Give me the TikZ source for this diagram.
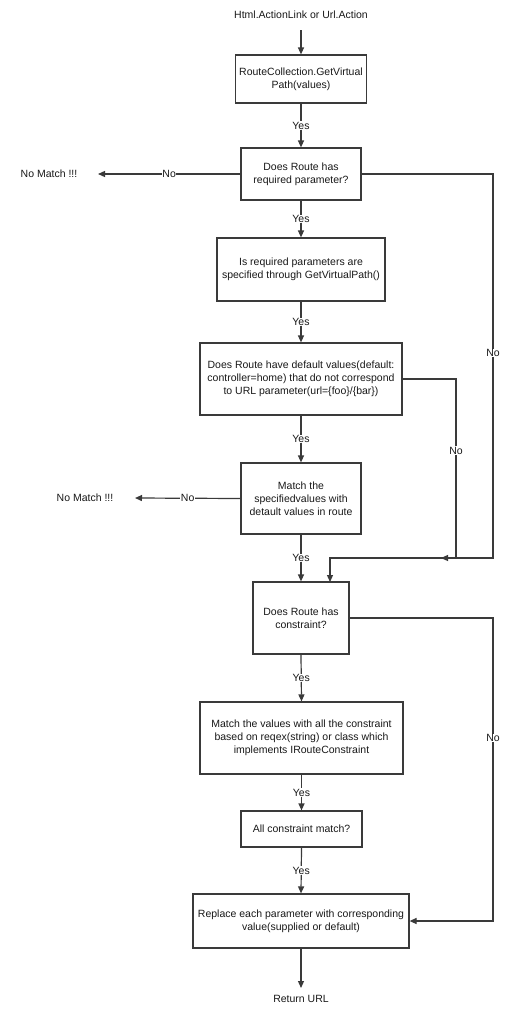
\documentclass[tikz,border=0pt]{standalone}
\usepackage{fontspec}
\setmainfont{Liberation Sans}
\usetikzlibrary{arrows.meta}
\definecolor{ln}{HTML}{3A3A3A}
\begin{document}
\begin{tikzpicture}[x=1pt,y=-1pt,
  every node/.style={font=\fontsize{10.5}{13}\selectfont, text=black!90},
  box/.style={draw=ln, line width=1.2pt, fill=white, align=center, inner sep=0pt},
  txt/.style={align=center, inner sep=1pt},
  lbl/.style={fill=white, inner sep=0.5pt},
  conn/.style={draw=ln, line width=1.2pt, -{Triangle[length=7pt,width=6pt]}},
  wire/.style={draw=ln, line width=1.2pt}]
\useasboundingbox (0,0) rectangle (519,1015);
\fill[white] (0,0) rectangle (519,1015);

\node[txt] (start) at (301,15) {Html.ActionLink or Url.Action};
\node[box, minimum width=131pt, minimum height=48pt] (b1) at (301,79) {RouteCollection.GetVirtual\\Path(values)};
\node[box, minimum width=120pt, minimum height=52pt] (b2) at (301,174) {Does Route has\\required parameter?};
\node[box, minimum width=168pt, minimum height=63pt] (b3) at (301,269.5) {Is required parameters are\\specified through GetVirtualPath()};
\node[box, minimum width=202pt, minimum height=72pt] (b4) at (301,379) {Does Route have default values(default:\\controller=home) that do not correspond\\to URL parameter(url=\{foo\}/\{bar\})};
\node[box, minimum width=120pt, minimum height=71pt] (b5) at (301,498.5) {Match the\\specifiedvalues with\\detault values in route};
\node[box, minimum width=96pt, minimum height=72pt] (b6) at (301,618) {Does Route has\\constraint?};
\node[box, minimum width=203pt, minimum height=72pt] (b7) at (301.5,738) {Match the values with all the constraint\\based on reqex(string) or class which\\implements IRouteConstraint};
\node[box, minimum width=121pt, minimum height=36pt] (b8) at (301.5,829) {All constraint match?};
\node[box, minimum width=216pt, minimum height=54pt] (b9) at (301,921) {Replace each parameter with corresponding\\value(supplied or default)};
\node[txt] (nm1) at (49,174) {No Match !!!};
\node[txt] (nm2) at (85,498) {No Match !!!};
\node[txt] (ret) at (301,999) {Return URL};

\coordinate (s0) at (301,30);
\coordinate (nm1e) at (98,174);
\coordinate (nm2e) at (135,498);
\coordinate (rete) at (301,988);
\coordinate (a1) at (493,174);
\coordinate (a2) at (493,558);
\coordinate (a3) at (330,558);
\coordinate (a4) at (330,582);
\coordinate (c1) at (456,379);
\coordinate (c2) at (456,558);
\coordinate (c3) at (441,558);
\coordinate (d1) at (493,618);
\coordinate (d2) at (493,921);

\draw[conn] (s0) -- (b1.north);
\draw[conn] (b1.south) -- node[lbl] {Yes} (b2.north);
\draw[conn] (b2.south) -- node[lbl] {Yes} (b3.north);
\draw[conn] (b3.south) -- node[lbl] {Yes} (b4.north);
\draw[conn] (b4.south) -- node[lbl] {Yes} (b5.north);
\draw[conn] (b5.south) -- node[lbl] {Yes} (b6.north);
\draw[conn] (b6.south) -- node[lbl] {Yes} (b7.north);
\draw[conn] (b7.south) -- node[lbl] {Yes} (b8.north);
\draw[conn] (b8.south) -- node[lbl] {Yes} (b9.north);
\draw[conn] (b9.south) -- (rete);

\draw[conn] (b2.west) -- node[lbl] {No} (nm1e);
\draw[conn] (b5.west) -- node[lbl] {No} (nm2e);

\draw[conn] (b2.east) -- (a1) -- node[lbl, pos=0.466] {No} (a2) -- (a3) -- (a4);
\draw[conn] (b4.east) -- (c1) -- node[lbl, pos=0.4] {No} (c2) -- (c3);
\draw[conn] (b6.east) -- (d1) -- node[lbl, pos=0.395] {No} (d2) -- (b9.east);
\end{tikzpicture}
\end{document}
